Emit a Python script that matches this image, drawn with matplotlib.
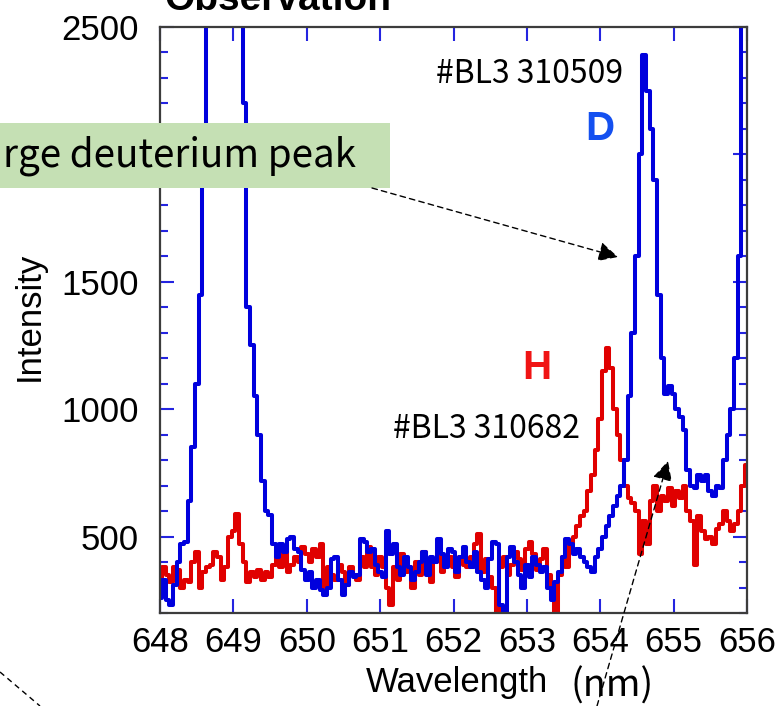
import numpy as np
import matplotlib
matplotlib.use('Agg')
import matplotlib.pyplot as plt
from matplotlib.ticker import MultipleLocator
from matplotlib.patches import Rectangle

plt.rcParams['font.family'] = ['Liberation Sans', 'DejaVu Sans']

# spectra, one value every 0.05 nm from 648 to 656 nm
# #BL3 310509 (deuterium shot)
d_shot = [
    260, 330, 250, 230, 310, 400, 470, 480, 640, 850,
    1100, 1450, 2000, 2700, 3000, 3200, 3300, 3300, 3200, 3050,
    2900, 2800, 2700, 2200, 1400, 1250, 1050, 900, 720, 600,
    585, 470, 420, 470, 440, 490, 500, 450, 440, 370,
    330, 360, 300, 330, 290, 270, 300, 410, 420, 330,
    270, 310, 360, 340, 350, 490, 480, 440, 450, 390,
    360, 340, 520, 430, 470, 380, 350, 420, 380, 330,
    360, 400, 440, 350, 420, 400, 490, 430, 380, 450,
    440, 360, 420, 460, 400, 380, 440, 360, 330, 300,
    410, 480, 470, 230, 200, 420, 460, 400, 350, 300,
    390, 340, 420, 390, 360, 380, 300, 250, 320, 360,
    420, 490, 470, 430, 450, 420, 400, 380, 360, 420,
    450, 500, 540, 580, 620, 660, 700, 800, 1050, 1300,
    1600, 2000, 2390, 2250, 2100, 1900, 1450, 1200, 1060, 1090,
    1060, 1000, 970, 920, 760, 700, 690, 740, 720, 740,
    680, 660, 700, 690, 800, 900, 1000, 1200, 1600, 2600,
    3000,
]
# #BL3 310682 (hydrogen shot)
h_shot = [
    280, 380, 350, 320, 380, 370, 300, 330, 320, 400,
    440, 300, 360, 380, 390, 440, 420, 330, 380, 500,
    520, 590, 470, 400, 320, 360, 340, 370, 330, 360,
    340, 390, 420, 380, 440, 360, 390, 420, 400, 460,
    430, 400, 450, 420, 470, 300, 380, 350, 330, 390,
    360, 310, 380, 350, 330, 420, 380, 460, 380, 350,
    420, 380, 300, 230, 380, 330, 430, 360, 380, 300,
    400, 350, 440, 380, 320, 400, 440, 360, 390, 420,
    380, 340, 420, 390, 380, 420, 470, 510, 360, 410,
    340, 300, 190, 380, 420, 350, 390, 440, 410, 370,
    450, 480, 430, 370, 410, 450, 350, 260, 190, 350,
    420, 380, 470, 500, 540, 580, 600, 680, 740, 840,
    960, 1150, 1240, 1160, 1000, 900, 800, 700, 650, 630,
    600, 430, 560, 470, 640, 700, 600, 660, 640, 690,
    620, 680, 650, 700, 600, 560, 390, 580, 520, 490,
    500, 470, 530, 550, 600, 560, 520, 550, 600, 700,
    780,
]
wavelength = np.linspace(648, 656, len(d_shot))

x_ticks = [648, 649, 650, 651, 652, 653, 654, 655, 656]
y_ticks = [500, 1000, 1500, 2000, 2500]

W, H = 780, 706


def px(x, y):
    # picture pixels -> figure fraction
    return x / W, 1 - y / H


fig = plt.figure(figsize=(W / 100, H / 100), dpi=100)
ax = fig.add_axes([160 / W, 1 - 613 / H, 587 / W, 586 / H])

ax.plot(wavelength, h_shot, color='#e00000', lw=2.9, drawstyle='steps-mid')
ax.plot(wavelength, d_shot, color='#0000dd', lw=2.9, drawstyle='steps-mid')

ax.set_xlim(648, 656)
ax.set_ylim(200, 2500)
ax.set_xticks(x_ticks)
ax.set_yticks(y_ticks)
ax.yaxis.set_minor_locator(MultipleLocator(100))
ax.tick_params(which='both', direction='in', top=True, right=True,
               color='#2424e0', width=1.5)
ax.tick_params(which='major', length=10, labelsize=25)
ax.tick_params(which='minor', length=6)
ax.tick_params(axis='x', pad=9)
ax.tick_params(axis='y', pad=15)
for s in ax.spines.values():
    s.set_color('#3c3c3c')
    s.set_linewidth(1.6)

cjk = ['Noto Sans CJK JP', 'DejaVu Sans']

# labels
fig.text(*px(29, 316), 'Intensity', rotation=90, ha='center', va='center', fontsize=25)
fig.text(*px(457, 692), 'Wavelength', ha='center', va='baseline', fontsize=25)
fig.text(*px(612, 686), '(nm)', ha='center', va='center', fontsize=27, family=cjk)
fig.text(*px(278, 10), 'Observation', ha='center', va='baseline',
         fontsize=28, fontweight='bold')

fig.text(*px(623, 83), '#BL3 310509', ha='right', va='baseline', fontsize=23, family=cjk)
fig.text(*px(580, 438), '#BL3 310682', ha='right', va='baseline', fontsize=23, family=cjk)
fig.text(*px(600, 140), 'D', ha='center', va='baseline', fontsize=29,
         fontweight='bold', color='#1450f0')
fig.text(*px(537, 379), 'H', ha='center', va='baseline', fontsize=29,
         fontweight='bold', color='#f01414')

# green call-out box
box = Rectangle(px(0, 188), 390 / W, 65 / H, transform=fig.transFigure,
                facecolor='#c5e0b4', edgecolor='none', zorder=5)
fig.add_artist(box)
fig.text(*px(356, 167), 'rge deuterium peak', ha='right', va='baseline',
         fontsize=27.8, family=cjk, zorder=6)

# dashed arrows
arrow = dict(arrowstyle='-|>', color='black', lw=1.0, linestyle=(0, (4, 3)),
             mutation_scale=30, shrinkA=0, shrinkB=0)
fig.add_artist(matplotlib.patches.FancyArrowPatch(
    px(372, 188), px(618, 257), transform=fig.transFigure, zorder=7, **arrow))
fig.add_artist(matplotlib.patches.FancyArrowPatch(
    px(597, 706), px(668, 461), transform=fig.transFigure, zorder=7, **arrow))
fig.add_artist(matplotlib.lines.Line2D(
    [0, 40 / W], [1 - 672 / H, 1 - 706 / H], transform=fig.transFigure,
    color='black', lw=1.0, linestyle=(0, (4, 3))))

fig.savefig('out.png', dpi=100)
